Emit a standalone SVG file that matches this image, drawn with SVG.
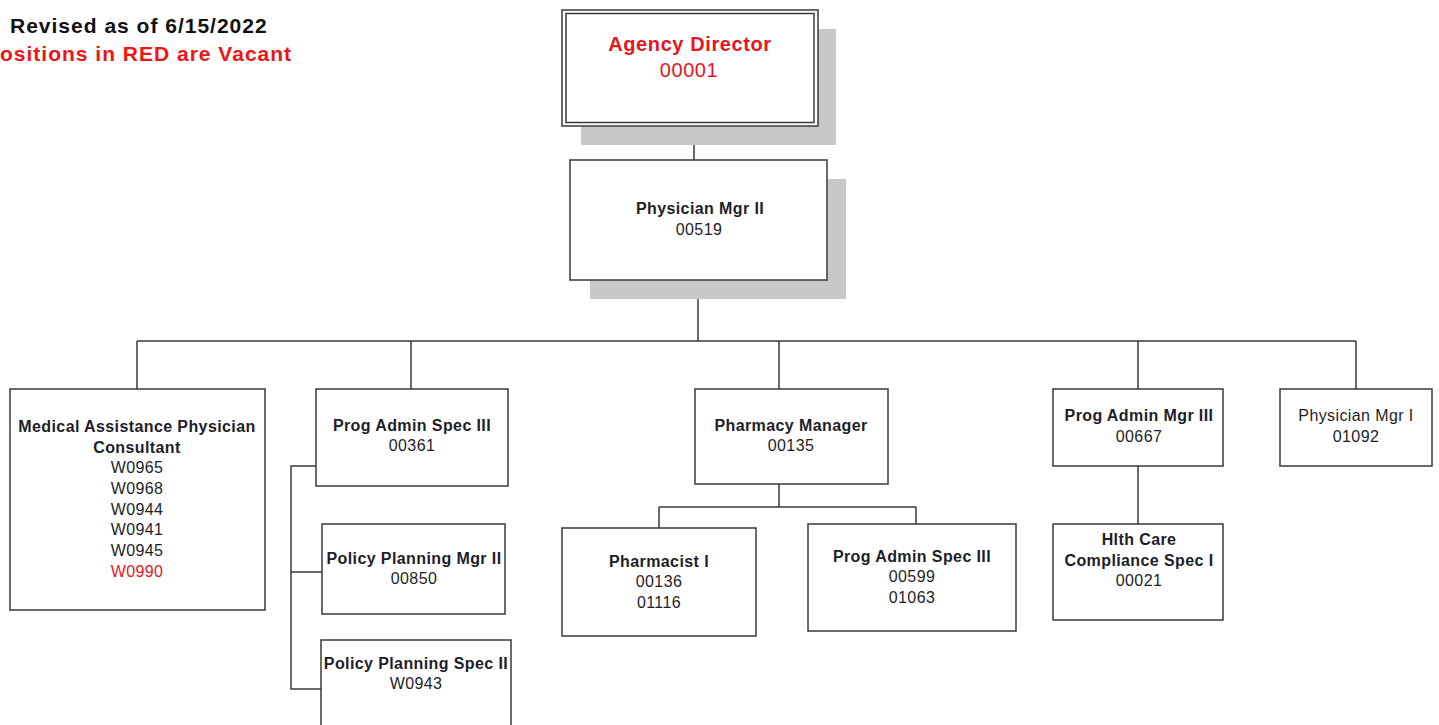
<svg xmlns="http://www.w3.org/2000/svg" width="1439" height="725" viewBox="0 0 1439 725">
<style>
.box{fill:#fff;stroke:#3a3a3a;stroke-width:1.5}
.sh{fill:#c8c8c8}
.t{font-family:"Liberation Sans",Arial,sans-serif;font-size:16px;letter-spacing:0.4px;fill:#1e1e28;text-anchor:middle}
.b{font-weight:bold}
.red{fill:#e8141e}
.ln{stroke:#3a3a3a;stroke-width:1.5;fill:none}
.hd{font-family:"Liberation Sans",Arial,sans-serif;font-size:21px;letter-spacing:1px;font-weight:bold}
</style>
<rect width="1439" height="725" fill="#fff"/>
<text class="hd" x="10" y="33" fill="#111">Revised as of 6/15/2022</text>
<text class="hd" x="0" y="61" fill="#f01414">ositions in RED are Vacant</text>
<g id="connectors">
<path class="ln" d="M694 126V160M698 280V341M137 341H1356M137 341V389M411 341V389M779 341V389M1138 341V389M1356 341V389"/>
<path class="ln" d="M316 466H291V689H321M291 572H322"/>
<path class="ln" d="M779 484V507M659 507H916M659 507V528M916 507V524"/>
<path class="ln" d="M1138 466V524"/>
</g>
<g id="agency-director">
<rect class="sh" x="581" y="29" width="255" height="116"/>
<rect x="562" y="10" width="256" height="116" fill="#fff" stroke="#3a3a3a" stroke-width="1.5"/>
<rect x="566" y="13.5" width="248" height="109" fill="none" stroke="#3a3a3a" stroke-width="1.5"/>
<text class="t b red" x="690" y="51" style="font-size:20px;letter-spacing:0.6px">Agency Director</text>
<text class="t red" x="689" y="77" style="font-size:20px;letter-spacing:0.6px">00001</text>
</g>
<g id="physician-mgr-ii">
<rect class="sh" x="590" y="179" width="256" height="120"/>
<rect class="box" x="570" y="160" width="257" height="120"/>
<text class="t b" x="700" y="214">Physician Mgr II</text>
<text class="t" x="699" y="235">00519</text>
</g>
<g id="medical-assistance">
<rect class="box" x="10" y="389" width="255" height="221"/>
<text class="t b" x="137" y="432">Medical Assistance Physician</text>
<text class="t b" x="137" y="453">Consultant</text>
<text class="t" x="137" y="473">W0965</text>
<text class="t" x="137" y="494">W0968</text>
<text class="t" x="137" y="515">W0944</text>
<text class="t" x="137" y="535">W0941</text>
<text class="t" x="137" y="556">W0945</text>
<text class="t red" x="137" y="577">W0990</text>
</g>
<g id="prog-admin-spec-iii-a">
<rect class="box" x="316" y="389" width="192" height="97"/>
<text class="t b" x="412" y="431">Prog Admin Spec III</text>
<text class="t" x="412" y="451">00361</text>
</g>
<g id="policy-planning-mgr-ii">
<rect class="box" x="322" y="524" width="183" height="90"/>
<text class="t b" x="414" y="564">Policy Planning Mgr II</text>
<text class="t" x="414" y="584">00850</text>
</g>
<g id="policy-planning-spec-ii">
<rect class="box" x="321" y="640" width="190" height="90"/>
<text class="t b" x="416" y="669">Policy Planning Spec II</text>
<text class="t" x="416" y="689">W0943</text>
</g>
<g id="pharmacy-manager">
<rect class="box" x="695" y="389" width="193" height="95"/>
<text class="t b" x="791" y="431">Pharmacy Manager</text>
<text class="t" x="791" y="451">00135</text>
</g>
<g id="pharmacist-i">
<rect class="box" x="562" y="528" width="194" height="108"/>
<text class="t b" x="659" y="567">Pharmacist I</text>
<text class="t" x="659" y="587">00136</text>
<text class="t" x="659" y="608">01116</text>
</g>
<g id="prog-admin-spec-iii-b">
<rect class="box" x="808" y="524" width="208" height="107"/>
<text class="t b" x="912" y="562">Prog Admin Spec III</text>
<text class="t" x="912" y="582">00599</text>
<text class="t" x="912" y="603">01063</text>
</g>
<g id="prog-admin-mgr-iii">
<rect class="box" x="1053" y="389" width="170" height="77"/>
<text class="t b" x="1139" y="421">Prog Admin Mgr III</text>
<text class="t" x="1139" y="442">00667</text>
</g>
<g id="physician-mgr-i">
<rect class="box" x="1280" y="389" width="152" height="77"/>
<text class="t" x="1356" y="421">Physician Mgr I</text>
<text class="t" x="1356" y="442">01092</text>
</g>
<g id="hlth-care-compliance">
<rect class="box" x="1053" y="524" width="170" height="96"/>
<text class="t b" x="1139" y="545">Hlth Care</text>
<text class="t b" x="1139" y="566">Compliance Spec I</text>
<text class="t" x="1139" y="586">00021</text>
</g>
</svg>
